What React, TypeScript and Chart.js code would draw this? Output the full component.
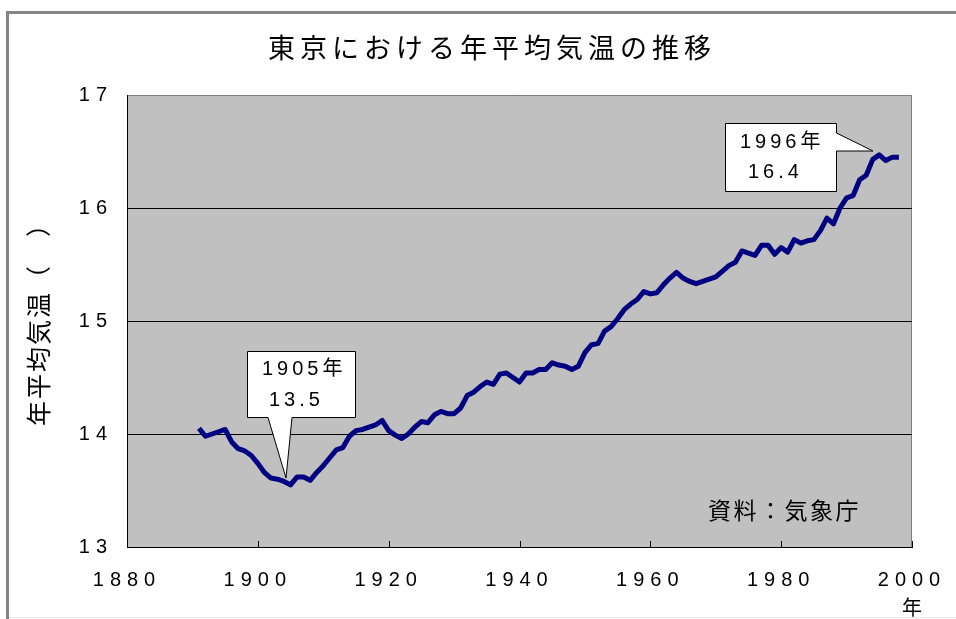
import React, { useEffect, useRef } from 'react';
import { Chart, registerables } from 'chart.js';

Chart.register(...registerables);

// ---- data ----
const years = [
  1891, 1892, 1893, 1894, 1895, 1896, 1897, 1898, 1899, 1900,
  1901, 1902, 1903, 1904, 1905, 1906, 1907, 1908, 1909, 1910,
  1911, 1912, 1913, 1914, 1915, 1916, 1917, 1918, 1919, 1920,
  1921, 1922, 1923, 1924, 1925, 1926, 1927, 1928, 1929, 1930,
  1931, 1932, 1933, 1934, 1935, 1936, 1937, 1938, 1939, 1940,
  1941, 1942, 1943, 1944, 1945, 1946, 1947, 1948, 1949, 1950,
  1951, 1952, 1953, 1954, 1955, 1956, 1957, 1958, 1959, 1960,
  1961, 1962, 1963, 1964, 1965, 1966, 1967, 1968, 1969, 1970,
  1971, 1972, 1973, 1974, 1975, 1976, 1977, 1978, 1979, 1980,
  1981, 1982, 1983, 1984, 1985, 1986, 1987, 1988, 1989, 1990,
  1991, 1992, 1993, 1994, 1995, 1996, 1997, 1998,
];

const temps = [
  14.05, 13.98, 14.0, 14.02, 14.04, 13.93, 13.87, 13.85, 13.81, 13.74,
  13.66, 13.61, 13.6, 13.58, 13.55, 13.62, 13.62, 13.59, 13.66, 13.72,
  13.79, 13.86, 13.88, 13.98, 14.03, 14.04, 14.06, 14.08, 14.12, 14.03,
  13.99, 13.96, 14.0, 14.06, 14.11, 14.1, 14.17, 14.2, 14.18, 14.18,
  14.23, 14.34, 14.37, 14.42, 14.46, 14.44, 14.53, 14.54, 14.5, 14.46,
  14.54, 14.54, 14.57, 14.57, 14.63, 14.61, 14.6, 14.57, 14.6, 14.72,
  14.79, 14.8, 14.91, 14.95, 15.02, 15.1, 15.15, 15.19, 15.26, 15.24,
  15.25, 15.32, 15.38, 15.43, 15.38, 15.35, 15.33, 15.35, 15.37, 15.39,
  15.44, 15.49, 15.52, 15.62, 15.6, 15.58, 15.67, 15.67, 15.59, 15.65,
  15.61, 15.72, 15.69, 15.71, 15.72, 15.8, 15.91, 15.86, 16.0, 16.09,
  16.11, 16.25, 16.29, 16.43, 16.47, 16.42, 16.45, 16.45,
];

const xTicks = [1880, 1900, 1920, 1940, 1960, 1980, 2000];
const yTicks = [13, 14, 15, 16, 17];
const gridValues = [14, 15, 16];

const chartTitle = '東京における年平均気温の推移';
const yAxisTitle = '年平均気温（　）';
const xAxisUnit = '年';
const sourceNote = '資料：気象庁';
const callout1905 = ['1905年', '13.5'];
const callout1996 = ['1996年', '16.4'];

const LATIN = "'Liberation Sans', Arial, 'Noto Sans CJK JP', sans-serif";
const CJK = "'Noto Sans CJK JP', 'Noto Sans CJK SC', sans-serif";

const decorPlugin = {
  id: 'decor',
  beforeDraw(chart: any) {
    const { ctx, chartArea: a } = chart;
    ctx.save();
    // plot background
    ctx.fillStyle = '#C0C0C0';
    ctx.fillRect(a.left, a.top, a.right - a.left, a.bottom - a.top);
    // grey frame (top / right)
    ctx.strokeStyle = '#808080';
    ctx.lineWidth = 1;
    ctx.beginPath();
    ctx.moveTo(a.left, a.top + 0.5);
    ctx.lineTo(a.right - 0.5, a.top + 0.5);
    ctx.lineTo(a.right - 0.5, a.bottom);
    ctx.stroke();

    // outer chart frame
    ctx.fillStyle = '#858585';
    ctx.fillRect(6, 11, 950, 3);
    ctx.fillRect(6, 11, 3, 608);
    ctx.fillStyle = '#e6e6e6';
    ctx.fillRect(9, 617, 947, 1);

    ctx.fillStyle = '#000';
    // title
    ctx.font = `27px ${CJK}`;
    ctx.letterSpacing = '5px';
    ctx.textAlign = 'center';
    ctx.textBaseline = 'middle';
    ctx.fillText(chartTitle, 492, 48);

    // y axis title (rotated)
    ctx.save();
    ctx.translate(38, 318);
    ctx.rotate(-Math.PI / 2);
    ctx.font = `25px ${CJK}`;
    ctx.letterSpacing = '2px';
    ctx.textAlign = 'center';
    ctx.textBaseline = 'middle';
    ctx.fillText(yAxisTitle, 0, 0);
    ctx.restore();

    // unit under x axis
    ctx.font = `20px ${CJK}`;
    ctx.letterSpacing = '0px';
    ctx.textAlign = 'center';
    ctx.fillText(xAxisUnit, 912, 607);
    ctx.restore();

    // letter spacing for the library-drawn tick labels
    ctx.letterSpacing = '6px';
  },
  afterDraw(chart: any) {
    const { ctx, chartArea: a, scales } = chart;
    ctx.letterSpacing = '0px';
    ctx.save();
    // inward tick marks on x axis
    ctx.strokeStyle = '#000';
    ctx.lineWidth = 1;
    ctx.beginPath();
    xTicks.forEach((v) => {
      const px = Math.round(scales.x.getPixelForValue(v)) + 0.5;
      ctx.moveTo(px, a.bottom);
      ctx.lineTo(px, a.bottom - 6);
    });
    ctx.stroke();

    // source note
    ctx.fillStyle = '#000';
    ctx.font = `23px ${CJK}`;
    ctx.letterSpacing = '2.5px';
    ctx.textAlign = 'left';
    ctx.textBaseline = 'middle';
    ctx.fillText(sourceNote, 708, 510);

    // callout 1905
    ctx.letterSpacing = '0px';
    ctx.fillStyle = '#fff';
    ctx.strokeStyle = '#000';
    ctx.lineWidth = 1;
    ctx.beginPath();
    ctx.moveTo(247.5, 351.5);
    ctx.lineTo(355.5, 351.5);
    ctx.lineTo(355.5, 417.5);
    ctx.lineTo(292, 417.5);
    ctx.lineTo(286, 478);
    ctx.lineTo(268, 417.5);
    ctx.lineTo(247.5, 417.5);
    ctx.closePath();
    ctx.fill();
    ctx.stroke();

    // callout 1996
    ctx.beginPath();
    ctx.moveTo(725.5, 123.5);
    ctx.lineTo(836.5, 123.5);
    ctx.lineTo(836.5, 133);
    ctx.lineTo(873, 151);
    ctx.lineTo(836.5, 151);
    ctx.lineTo(836.5, 191.5);
    ctx.lineTo(725.5, 191.5);
    ctx.closePath();
    ctx.fill();
    ctx.stroke();

    ctx.fillStyle = '#000';
    ctx.font = `20px ${LATIN}`;
    ctx.letterSpacing = '4px';
    ctx.textAlign = 'left';
    ctx.textBaseline = 'middle';
    ctx.fillText(callout1905[0], 262, 369);
    ctx.fillText(callout1905[1], 269, 400);
    ctx.fillText(callout1996[0], 740, 142);
    ctx.fillText(callout1996[1], 748, 172);
    ctx.restore();
  },
};

export default function App() {
  const canvasRef = useRef<HTMLCanvasElement | null>(null);

  useEffect(() => {
    const canvas = canvasRef.current;
    if (!canvas) return;
    const chart = new Chart(canvas, {
      type: 'line',
      data: {
        datasets: [
          {
            label: '年平均気温',
            data: years.map((y, i) => ({ x: y, y: temps[i] })),
            borderColor: '#000080',
            backgroundColor: '#000080',
            borderWidth: 5,
            pointRadius: 0,
            pointHoverRadius: 0,
            tension: 0,
            borderJoinStyle: 'round',
            borderCapStyle: 'butt',
            fill: false,
          },
        ],
      },
      options: {
        responsive: false,
        animation: false,
        events: [],
        layout: { padding: { left: 0, top: 95, right: 44, bottom: 0 } },
        plugins: {
          legend: { display: false },
          tooltip: { enabled: false },
          title: { display: false },
        },
        scales: {
          x: {
            type: 'linear',
            min: 1880,
            max: 2000,
            afterFit: (s: any) => {
              s.height = 72;
            },
            afterBuildTicks: (s: any) => {
              s.ticks = xTicks.map((v) => ({ value: v }));
            },
            grid: { display: false, drawTicks: false },
            border: { display: true, color: '#000', width: 1 },
            ticks: {
              autoSkip: false,
              maxRotation: 0,
              minRotation: 0,
              padding: 21,
              color: '#000',
              font: { family: LATIN, size: 20 },
              callback: (v: any) => String(v),
            },
          },
          y: {
            type: 'linear',
            min: 13,
            max: 17,
            afterFit: (s: any) => {
              s.width = 127;
            },
            afterBuildTicks: (s: any) => {
              s.ticks = yTicks.map((v) => ({ value: v }));
            },
            grid: {
              drawTicks: false,
              lineWidth: 1,
              color: (c: any) =>
                c.tick && gridValues.includes(c.tick.value) ? '#000' : 'rgba(0,0,0,0)',
            },
            border: { display: true, color: '#000', width: 1 },
            ticks: {
              padding: 14,
              color: '#000',
              font: { family: LATIN, size: 20 },
              callback: (v: any) => String(v),
            },
          },
        },
      },
      plugins: [decorPlugin],
    } as any);
    return () => chart.destroy();
  }, []);

  return (
    <div style={{ position: 'absolute', left: 0, top: 0, width: 956, height: 619 }}>
      <canvas ref={canvasRef} width={956} height={619} style={{ display: 'block' }} />
    </div>
  );
}
